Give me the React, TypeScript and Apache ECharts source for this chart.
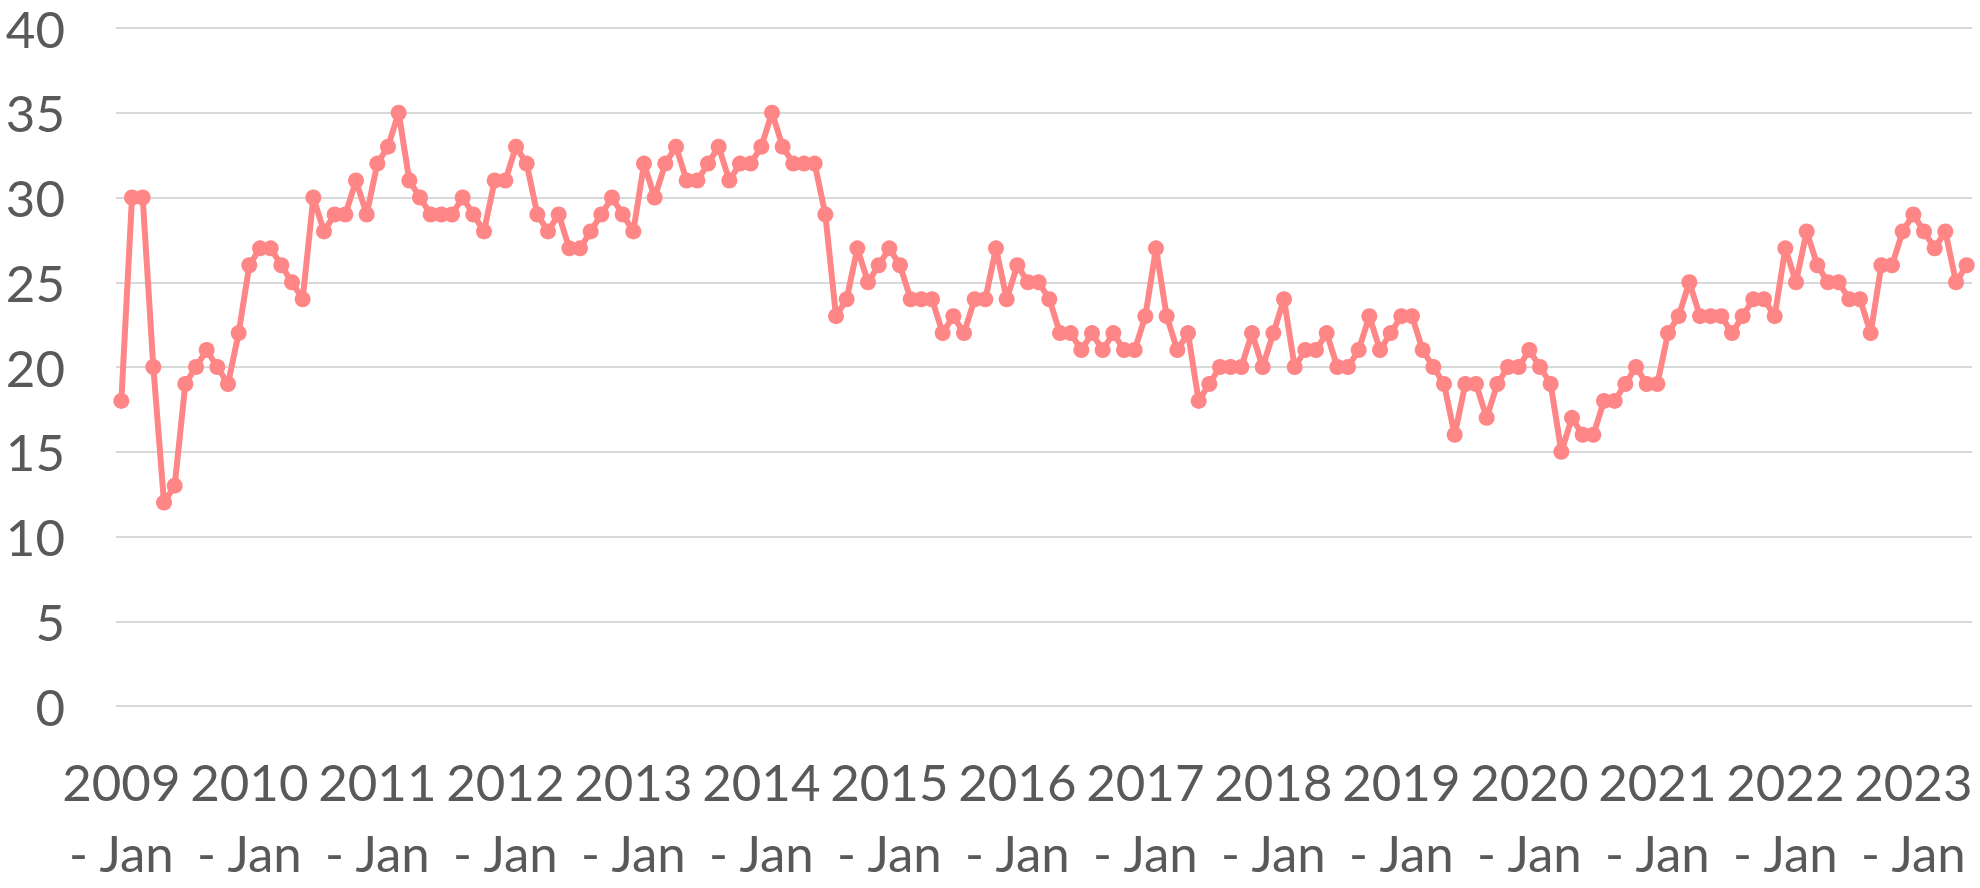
import React, { useEffect, useRef } from "react";
import * as echarts from "echarts";

const years = ["2009", "2010", "2011", "2012", "2013", "2014", "2015", "2016", "2017", "2018", "2019", "2020", "2021", "2022", "2023"];
const months = ["Jan", "Feb", "Mar", "Apr", "May", "Jun", "Jul", "Aug", "Sep", "Oct", "Nov", "Dec"];
const monthsInLastYear = 6;

const values2009 = [18, 30, 30, 20, 12, 13, 19, 20, 21, 20, 19, 22];
const values2010 = [26, 27, 27, 26, 25, 24, 30, 28, 29, 29, 31, 29];
const values2011 = [32, 33, 35, 31, 30, 29, 29, 29, 30, 29, 28, 31];
const values2012 = [31, 33, 32, 29, 28, 29, 27, 27, 28, 29, 30, 29];
const values2013 = [28, 32, 30, 32, 33, 31, 31, 32, 33, 31, 32, 32];
const values2014 = [33, 35, 33, 32, 32, 32, 29, 23, 24, 27, 25, 26];
const values2015 = [27, 26, 24, 24, 24, 22, 23, 22, 24, 24, 27, 24];
const values2016 = [26, 25, 25, 24, 22, 22, 21, 22, 21, 22, 21, 21];
const values2017 = [23, 27, 23, 21, 22, 18, 19, 20, 20, 20, 22, 20];
const values2018 = [22, 24, 20, 21, 21, 22, 20, 20, 21, 23, 21, 22];
const values2019 = [23, 23, 21, 20, 19, 16, 19, 19, 17, 19, 20, 20];
const values2020 = [21, 20, 19, 15, 17, 16, 16, 18, 18, 19, 20, 19];
const values2021 = [19, 22, 23, 25, 23, 23, 23, 22, 23, 24, 24, 23];
const values2022 = [27, 25, 28, 26, 25, 25, 24, 24, 22, 26, 26, 28];
const values2023 = [29, 28, 27, 28, 25, 26];

const yTicks = [0, 5, 10, 15, 20, 25, 30, 35, 40];

export default function App() {
  const ref = useRef<HTMLDivElement>(null);
  useEffect(() => {
    document.body.style.margin = "0";
    if (!ref.current) return;
    const chart = echarts.init(ref.current, undefined, { renderer: "svg" });

    const categories: string[] = [];
    years.forEach((y, yi) => {
      const count = yi === years.length - 1 ? monthsInLastYear : 12;
      for (let m = 0; m < count; m++) categories.push(`${y} - ${months[m]}`);
    });
    const values = [
      ...values2009, ...values2010, ...values2011, ...values2012, ...values2013,
      ...values2014, ...values2015, ...values2016, ...values2017, ...values2018,
      ...values2019, ...values2020, ...values2021, ...values2022, ...values2023,
    ];

    const font = "Lato, 'Open Sans', sans-serif";
    chart.setOption({
      animation: false,
      backgroundColor: "#ffffff",
      grid: { left: 116, right: 8, top: 28, bottom: 171, containLabel: false },
      xAxis: {
        type: "category",
        data: categories,
        boundaryGap: true,
        axisLine: { show: false },
        axisTick: { show: false },
        splitLine: { show: false },
        axisLabel: {
          interval: 11,
          color: "#595959",
          fontFamily: font,
          fontSize: 51,
          lineHeight: 71,
          margin: 40,
          align: "center",
          formatter: (v: string) => v.replace(" - ", "\n- "),
        },
      },
      yAxis: {
        type: "value",
        min: yTicks[0],
        max: yTicks[yTicks.length - 1],
        interval: 5,
        axisLine: { show: false },
        axisTick: { show: false },
        splitLine: { show: true, lineStyle: { color: "#d9d9d9", width: 2 } },
        axisLabel: {
          color: "#595959",
          fontFamily: font,
          fontSize: 51,
          margin: 51,
        },
      },
      series: [
        {
          type: "line",
          data: values,
          symbol: "circle",
          symbolSize: 16,
          showAllSymbol: true,
          lineStyle: { color: "#ff8686", width: 6 },
          itemStyle: { color: "#ff8686" },
        },
      ],
    });
    return () => chart.dispose();
  }, []);
  return <div ref={ref} style={{ width: 1980, height: 888 }} />;
}
